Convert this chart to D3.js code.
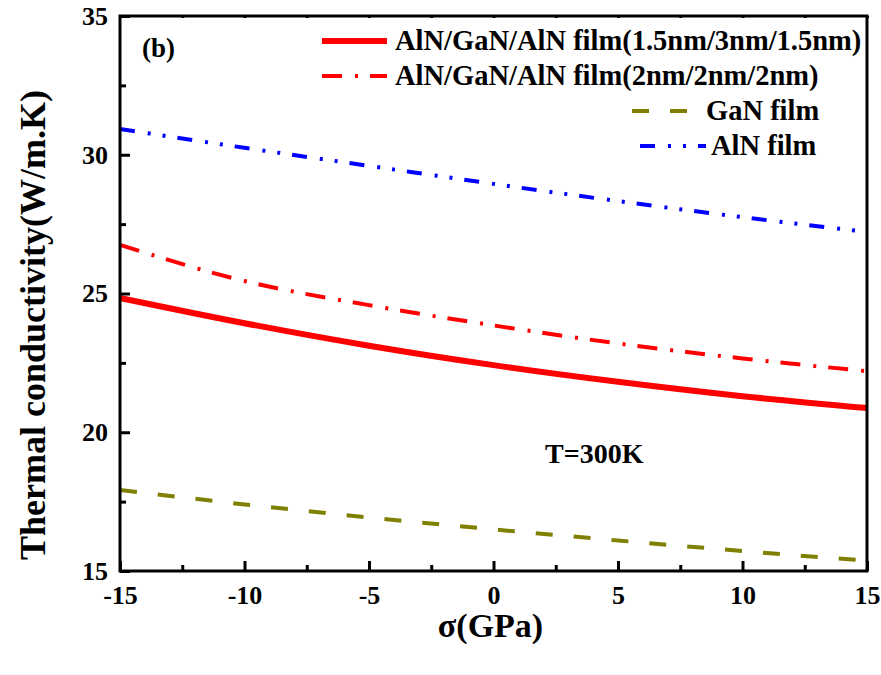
<!DOCTYPE html>
<html>
<head>
<meta charset="utf-8">
<script src="https://cdn.jsdelivr.net/npm/d3@7"></script>
<style>
  body { margin: 0; background: #fff; }
  text { font-family: "Liberation Serif", "Times New Roman", serif; font-weight: bold; fill: #000; }
</style>
</head>
<body>
<script>
// stress values on the x axis (GPa)
var stress = [-15, -10, -5, 0, 5, 10, 15];

// thermal conductivity (W/m.K)
var film153 = [24.84, 23.93, 23.12, 22.42, 21.82, 21.30, 20.87];
var film222 = [26.75, 25.45, 24.58, 23.85, 23.20, 22.66, 22.20];
var ganFilm = [17.92, 17.40, 16.93, 16.50, 16.10, 15.72, 15.37];
var alnFilm = [30.93, 30.25, 29.60, 28.95, 28.33, 27.75, 27.22];

var xTicks = [-15, -10, -5, 0, 5, 10, 15];
var yTicks = [15, 20, 25, 30, 35];

var width = 881, height = 675;
// plot box (note: "top" is taken by window.top, so use other names)
var padL = 120, padR = 867, padT = 16, padB = 571;

var svg = d3.select('body').append('svg')
  .attr('width', width)
  .attr('height', height);

var x = d3.scaleLinear().domain([-15, 15]).range([padL, padR]);
var y = d3.scaleLinear().domain([15, 35]).range([padB, padT]);

// series with their line styles
var series = [
  { name: 'AlN/GaN/AlN film(1.5nm/3nm/1.5nm)', values: film153, color: '#ff0000', w: 6, dash: null },
  { name: 'AlN/GaN/AlN film(2nm/2nm/2nm)', values: film222, color: '#ff0000', w: 4, dash: '20,13,3,12' },
  { name: 'GaN film', values: ganFilm, color: '#808000', w: 4, dash: '17,21' },
  { name: 'AlN film', values: alnFilm, color: '#0000ff', w: 4, dash: '15,13,3,12,3,12' }
];

var line = d3.line()
  .x(function(d) { return x(d[0]); })
  .y(function(d) { return y(d[1]); })
  .curve(d3.curveMonotoneX);

series.forEach(function(s) {
  svg.append('path')
    .datum(stress.map(function(v, i) { return [v, s.values[i]]; }))
    .attr('d', line)
    .attr('fill', 'none')
    .attr('stroke', s.color)
    .attr('stroke-width', s.w)
    .attr('stroke-dasharray', s.dash);
});

// minor ticks halfway between the major ones
var xMinor = d3.range(-12.5, 15, 5);
var yMinor = d3.range(17.5, 35, 5);

var plain = function(d) { return String(d); }; // keep the hyphen minus

// bottom axis, ticks inward
svg.append('g')
  .attr('transform', 'translate(0,' + padB + ')')
  .call(d3.axisBottom(x).tickValues(xTicks).tickSize(-10).tickSizeOuter(0).tickPadding(15)
    .tickFormat(plain));
svg.append('g')
  .attr('transform', 'translate(0,' + padB + ')')
  .call(d3.axisBottom(x).tickValues(xMinor).tickSize(-6).tickFormat(''));

svg.append('g')
  .attr('transform', 'translate(' + padL + ',0)')
  .call(d3.axisLeft(y).tickValues(yTicks).tickSize(-10).tickSizeOuter(0).tickPadding(12)
    .tickFormat(plain));
svg.append('g')
  .attr('transform', 'translate(' + padL + ',0)')
  .call(d3.axisLeft(y).tickValues(yMinor).tickSize(-6).tickFormat(''));

// little ticks along the top
svg.append('g')
  .attr('transform', 'translate(0,' + padT + ')')
  .call(d3.axisTop(x).tickValues(xTicks.concat(xMinor)).tickSize(-2).tickFormat(''));

svg.selectAll('.domain').remove();
svg.selectAll('.tick line').attr('stroke', '#000').attr('stroke-width', 3);
svg.selectAll('.tick text').style('font-size', '26px')
  .style('font-family', '"Liberation Serif", serif').style('font-weight', 'bold')
  .attr('fill', '#000');

// frame
svg.append('rect')
  .attr('x', padL).attr('y', padT)
  .attr('width', padR - padL).attr('height', padB - padT)
  .attr('fill', 'none').attr('stroke', '#000').attr('stroke-width', 3);

// axis titles
svg.append('text')
  .attr('x', (padL + padR) / 2 - 3).attr('y', 637)
  .attr('text-anchor', 'middle')
  .style('font-size', '34px')
  .text('σ(GPa)');

svg.append('text')
  .attr('transform', 'translate(45,' + 325 + ') rotate(-90)')
  .attr('text-anchor', 'middle')
  .style('font-size', '36px')
  .text('Thermal conductivity(W/m.K)');

// annotations
svg.append('text').attr('x', 142).attr('y', 57).style('font-size', '27px').text('(b)');
svg.append('text').attr('x', 545).attr('y', 463).style('font-size', '28px').text('T=300K');

// legend
var legend = [
  { x1: 322, x2: 387, tx: 395, y: 41 },
  { x1: 322, x2: 387, tx: 395, y: 76 },
  { x1: 632, x2: 690, tx: 706, y: 111 },
  { x1: 640, x2: 706, tx: 711, y: 146 }
];
legend.forEach(function(l, i) {
  var s = series[i];
  svg.append('line')
    .attr('x1', l.x1).attr('x2', l.x2).attr('y1', l.y).attr('y2', l.y)
    .attr('stroke', s.color).attr('stroke-width', s.w)
    .attr('stroke-dasharray', s.dash);
  svg.append('text')
    .attr('x', l.tx).attr('y', l.y + 9)
    .style('font-size', '28.5px')
    .text(s.name);
});
</script>
</body>
</html>
